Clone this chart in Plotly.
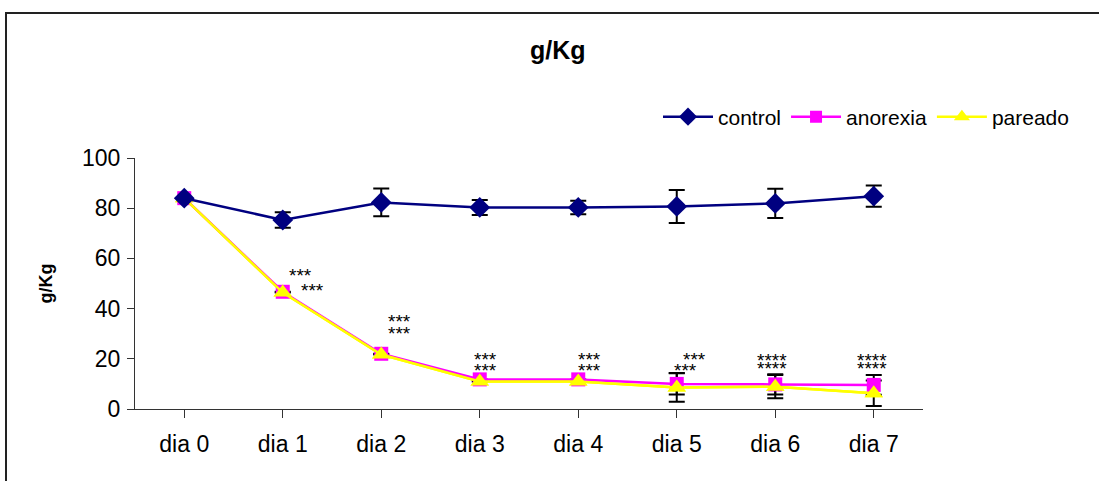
import plotly.graph_objects as go

categories = ["dia 0", "dia 1", "dia 2", "dia 3", "dia 4", "dia 5", "dia 6", "dia 7"]
control = [84.0, 75.3, 82.3, 80.3, 80.3, 80.7, 81.9, 84.8]
control_err = [0, 3.1, 5.5, 3.0, 2.7, 6.6, 5.8, 4.2]
anorexia = [84.0, 46.7, 22.0, 11.8, 11.8, 10.0, 9.8, 9.6]
anorexia_err = [0, 0, 0, 0, 0, 4.2, 4.0, 3.9]
pareado = [84.0, 46.4, 21.7, 11.0, 11.0, 8.6, 8.9, 6.3]
pareado_err = [0, 0, 0, 0, 0, 5.7, 4.6, 5.1]

# significance marks: (category index, text, y value, x pixel shift)
star_labels = [
    (1, "***", 54.6, 18), (1, "***", 49.0, 30),
    (2, "***", 36.4, 18), (2, "***", 31.5, 18),
    (3, "***", 21.5, 6), (3, "***", 17.1, 6),
    (4, "***", 21.5, 11), (4, "***", 17.1, 11),
    (5, "***", 21.5, 18), (5, "***", 17.1, 9),
    (6, "****", 20.8, -3), (6, "****", 17.8, -3),
    (7, "****", 20.8, -2), (7, "****", 17.8, -2),
]

FONT = "Liberation Sans, Arial, sans-serif"
x_idx = list(range(len(categories)))

fig = go.Figure()
fig.add_trace(go.Scatter(
    x=x_idx, y=pareado, name="pareado", mode="lines+markers",
    line=dict(color="#FFFF00", width=2.5),
    marker=dict(symbol="triangle-up", size=16, color="#FFFF00"),
    error_y=dict(type="data", array=pareado_err, color="black", thickness=2, width=8),
    showlegend=False,
))
fig.add_trace(go.Scatter(
    x=x_idx, y=anorexia, name="anorexia", mode="lines+markers",
    line=dict(color="#FF00FF", width=2.5),
    marker=dict(symbol="square", size=14, color="#FF00FF"),
    error_y=dict(type="data", array=anorexia_err, color="black", thickness=2, width=8),
    showlegend=False,
))
fig.add_trace(go.Scatter(
    x=x_idx, y=pareado, name="pareado", mode="lines+markers",
    line=dict(color="#FFFF00", width=2.5),
    marker=dict(symbol="triangle-up", size=16, color="#FFFF00"),
    showlegend=False,
))
fig.add_trace(go.Scatter(
    x=x_idx, y=control, name="control", mode="lines+markers",
    line=dict(color="#000080", width=2.5),
    marker=dict(symbol="diamond", size=16, color="#000080"),
    error_y=dict(type="data", array=control_err, color="black", thickness=2, width=8),
    showlegend=False,
))
for nm, col, sym, sz in [("control", "#000080", "diamond", 14),
                         ("anorexia", "#FF00FF", "square", 12),
                         ("pareado", "#FFFF00", "triangle-up", 14)]:
    fig.add_trace(go.Scatter(
        x=[None], y=[None], name=nm, mode="lines+markers",
        line=dict(color=col, width=2.5),
        marker=dict(symbol=sym, size=sz, color=col),
        showlegend=True,
    ))

for ci, txt, yv, xs in star_labels:
    fig.add_annotation(x=ci, y=yv, text=txt, showarrow=False, xshift=xs, yshift=-4,
                       xanchor="center", yanchor="middle",
                       font=dict(family=FONT, size=19, color="black"))

L, R, T, B = 135, 923, 158, 409
W, H = 1099, 481
pw, ph = R - L, B - T

def px(xp):
    return (xp - L) / pw

def py(yp):
    return (B - yp) / ph

fig.add_annotation(x=px(558), y=py(50), xref="paper", yref="paper", text="<b>g/Kg</b>",
                   showarrow=False, xanchor="center", yanchor="middle",
                   font=dict(family=FONT, size=25, color="black"))

fig.add_shape(type="rect", xref="paper", yref="paper",
              x0=px(6), x1=px(1115), y0=py(495), y1=py(13),
              line=dict(color="#222222", width=2), fillcolor="rgba(0,0,0,0)", layer="below")

fig.update_layout(
    width=W, height=H,
    margin=dict(l=L, r=W - R, t=T, b=H - B, pad=0),
    paper_bgcolor="white", plot_bgcolor="white",
    font=dict(family=FONT, size=22, color="black"),
    legend=dict(orientation="h", x=px(1074), y=py(117), xanchor="right", yanchor="middle",
                font=dict(family=FONT, size=21, color="black"),
                bgcolor="rgba(0,0,0,0)", itemwidth=50, tracegroupgap=0),
    xaxis=dict(range=[-0.5, 7.5], tickmode="array", tickvals=x_idx, ticktext=categories,
               showgrid=False, zeroline=False, showline=True, linecolor="#333333", linewidth=1,
               ticks="outside", ticklen=8, tickcolor="#333333", tickson="boundaries",
               ticklabelstandoff=6,
               tickfont=dict(family=FONT, size=23, color="black")),
    yaxis=dict(range=[0, 100], tickmode="array", tickvals=[0, 20, 40, 60, 80, 100],
               showgrid=False, zeroline=False, showline=True, linecolor="#333333", linewidth=1,
               ticks="outside", ticklen=7, tickcolor="#333333", ticklabelstandoff=2,
               tickfont=dict(family=FONT, size=23, color="black"),
               title=dict(text="<b>g/Kg</b>", font=dict(family=FONT, size=18, color="black"),
                          standoff=24)),
)

fig.write_html("out.html", config={"displayModeBar": False},
               post_script="document.body.style.margin='0';document.body.style.overflow='hidden';")
